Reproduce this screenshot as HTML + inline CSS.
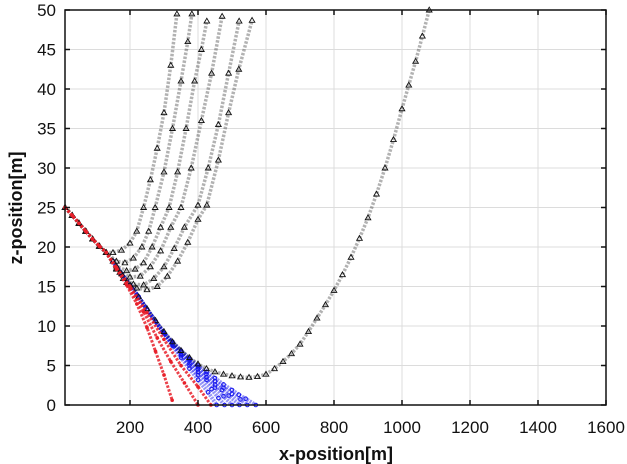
<!DOCTYPE html>
<html><head><meta charset="utf-8"><style>
html,body{margin:0;padding:0;background:#fff;}
svg{display:block;font-family:"Liberation Sans",Arial,sans-serif;}
</style></head><body>
<svg id="chart" width="627" height="464" viewBox="0 0 627 464" xmlns="http://www.w3.org/2000/svg"></svg>
<script>
const xTicks=[200,400,600,800,1000,1200,1400,1600];
const yTicks=[0,5,10,15,20,25,30,35,40,45,50];
const launchPath=[[9,25],[30,24],[50,23],[70,22],[90,21],[110,20.1],[130,19.3]];
const upper1=[[150,19.3],[175,19.6],[200,20.5],[220,22],[240,25],[260,28.5],[280,32.5],[300,37],[320,43],[338,49.5]];
const upper2=[[160,18.2],[185,18],[210,18.6],[235,20],[255,22],[274,25],[300,29.5],[325,35],[350,41],[370,46],[382,49.5]];
const upper3=[[160,17.6],[190,17],[215,17.2],[240,18],[265,20],[290,22.5],[315,25],[340,29.5],[365,35],[390,41],[410,45],[426,48.6]];
const upper4=[[170,16.8],[200,16.2],[230,16.3],[260,17.5],[290,19.5],[320,22.5],[350,25],[380,30],[410,36],[440,42],[471,49.2]];
const upper5=[[160,17.3],[180,16],[210,15.3],[240,15.2],[270,16],[300,17.5],[330,19.8],[360,22.5],[400,25.3],[430,30],[460,35.5],[490,42],[521,48.6]];
const upper6=[[160,17.2],[190,15.5],[220,14.8],[250,14.6],[280,15],[310,16.3],[340,18.2],[370,20.6],[400,23.5],[426,25.3],[460,31],[490,37],[520,42.5],[559,48.7]];
const bigCurve=[[150,18.2],[175,16.6],[200,15.2],[225,13.7],[250,12.2],[275,10.7],[300,9.3],[325,8],[350,6.9],[375,6],[400,5.2],[425,4.6],[450,4.2],[475,3.9],[500,3.7],[525,3.55],[550,3.5],[575,3.6],[600,3.9],[625,4.6],[650,5.5],[675,6.5],[700,7.7],[725,9.3],[750,11],[775,12.7],[800,14.5],[825,16.5],[850,18.7],[875,21.1],[900,23.7],[925,26.7],[950,30],[975,33.6],[1000,37.5],[1020,40.5],[1040,43.5],[1060,46.7],[1080,50]];
const red1=[[160,17.2],[190,15.2],[220,12.8],[250,9.8],[275,6.8],[300,3.8],[324,0.6]];
const red2=[[160,17.3],[200,14.8],[240,11.8],[280,8.5],[320,5.5],[360,2.8],[400,0]];
const red3=[[160,17.4],[200,15],[250,11.7],[300,8.3],[350,5],[400,2.3],[438,0]];
const blueCommon=[[150,18.2],[175,16.6],[200,15.2],[225,13.7],[250,12.1],[275,10.6],[300,9.1]];
const blue1=[[325,7.5],[350,6],[375,4.6],[400,3.2],[430,1.6],[455,0]];
const blue2=[[325,7.6],[350,6.3],[375,5],[400,3.8],[440,2],[460,0.9],[478,0]];
const blue3=[[325,7.7],[350,6.5],[375,5.3],[400,4.2],[425,3.2],[450,2.2],[475,1.1],[500,0]];
const blue4=[[325,7.8],[350,6.7],[375,5.6],[400,4.5],[425,3.5],[450,2.6],[470,1.9],[490,1.2],[522,0]];
const blue5=[[325,7.9],[350,6.8],[375,5.8],[400,4.8],[425,3.9],[450,3],[475,2.2],[500,1.4],[525,0.7],[545,0]];
const blue6=[[325,8],[350,6.9],[375,5.9],[400,5],[425,4.2],[450,3.4],[475,2.6],[500,1.9],[520,1.3],[540,0.8],[570,0]];

const NS="http://www.w3.org/2000/svg";
const svg=document.getElementById('chart');
const L=62,R=606,T=10,B=405,XMIN=0,XMAX=1600,YMIN=0,YMAX=50;
const X=v=>L+(v-XMIN)/(XMAX-XMIN)*(R-L);
const Y=v=>B-(v-YMIN)/(YMAX-YMIN)*(B-T);
const AX=65;
function mk(tag,attrs,parent){const e=document.createElementNS(NS,tag);for(const k in attrs)e.setAttribute(k,attrs[k]);(parent||svg).appendChild(e);return e;}

const grid=mk('g',{});


xTicks.forEach(t=>{mk('line',{x1:X(t),x2:X(t),y1:T,y2:B,stroke:'#dcdcdc','stroke-width':1},grid);});
yTicks.forEach(t=>{mk('line',{x1:AX,x2:R,y1:Y(t),y2:Y(t),stroke:'#dcdcdc','stroke-width':1},grid);});

const plot=mk('g',{});


function pts(arr){return arr.map(p=>X(p[0]).toFixed(1)+','+Y(p[1]).toFixed(1)).join(' ');}
function series(name,arr,color,kind){
  const g=mk('g',{},plot);
  
  
  if(kind==='tri'){
    mk('polyline',{points:pts(arr),fill:'none',stroke:'#222','stroke-width':3.5,'stroke-opacity':0.35,'stroke-dasharray':'2.5 1.5','stroke-linejoin':'round'},g);
  }else if(kind==='red'){
    mk('polyline',{points:pts(arr),fill:'none',stroke:color,'stroke-width':3,'stroke-opacity':0.85,'stroke-dasharray':'2.5 1.5','stroke-linejoin':'round'},g);
  }else{
    mk('polyline',{points:pts(arr),fill:'none',stroke:color,'stroke-width':4,'stroke-opacity':0.45,'stroke-dasharray':'2 1','stroke-linejoin':'round'},g);
  }
  arr.forEach(p=>{
    const x=X(p[0]),y=Y(p[1]);
    if(kind==='tri'){mk('polygon',{points:`${x},${y-2.8} ${x-2.8},${y+2} ${x+2.8},${y+2}`,fill:'none',stroke:'#111','stroke-width':0.9},g);}
    else if(kind==='red'){mk('circle',{cx:x,cy:y,r:1.8,fill:'#e8202a'},g);}
    else{mk('circle',{cx:x,cy:y,r:1.8,fill:'none',stroke:'#1515ee','stroke-width':1},g);}
  });
}
const blues=[blue1,blue2,blue3,blue4,blue5,blue6];
blues.forEach((b,i)=>series('blue-trajectory-'+(i+1),blueCommon.concat(b),'#1515ee','blue'));
[upper1,upper2,upper3,upper4,upper5,upper6].forEach((u,i)=>series('pullup-trajectory-'+(i+1),launchPath.concat(u),'#111','tri'));
series('wide-pullup-trajectory',launchPath.concat(bigCurve),'#111','tri');
[red1,red2,red3].forEach((r,i)=>series('red-trajectory-'+(i+1),launchPath.concat(r),'#e8202a','red'));

const axes=mk('g',{});


mk('rect',{x:AX,y:T,width:R-AX,height:B-T,fill:'none',stroke:'#111','stroke-width':1.5},axes);
xTicks.forEach(t=>{
  mk('line',{x1:X(t),x2:X(t),y1:B,y2:B-5,stroke:'#111','stroke-width':1.5},axes);
  mk('line',{x1:X(t),x2:X(t),y1:T,y2:T+5,stroke:'#111','stroke-width':1.5},axes);
  const tx=mk('text',{x:X(t),y:433,'text-anchor':'middle','font-size':17,fill:'#111'},axes);
  tx.textContent=t;
  
  
});
yTicks.forEach(t=>{
  mk('line',{x1:AX,x2:AX+5,y1:Y(t),y2:Y(t),stroke:'#111','stroke-width':1.5},axes);
  mk('line',{x1:R,x2:R-5,y1:Y(t),y2:Y(t),stroke:'#111','stroke-width':1.5},axes);
  const ty=mk('text',{x:56,y:Y(t)+6,'text-anchor':'end','font-size':17,fill:'#111'},axes);
  ty.textContent=t;
  
  
});
const xl=mk('text',{x:336,y:460,'text-anchor':'middle','font-size':18,'font-weight':'bold',fill:'#111'});
xl.textContent='x-position[m]';


const yl=mk('text',{x:0,y:0,'text-anchor':'middle','font-size':18,'font-weight':'bold',fill:'#111',transform:'translate(22,208) rotate(-90)'});
yl.textContent='z-position[m]';


</script>
</body></html>
